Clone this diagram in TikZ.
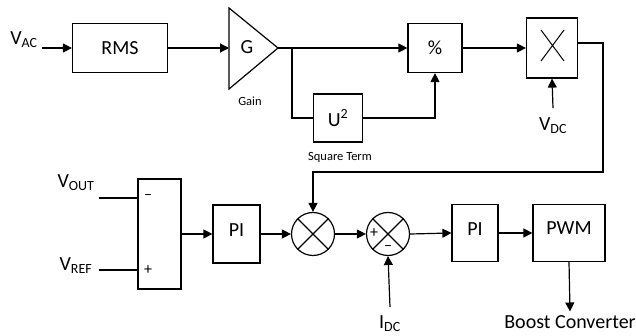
\documentclass[tikz,border=0pt]{standalone}
\usepackage{fontspec}
\setmainfont{Carlito}
\usetikzlibrary{arrows.meta,calc}
\tikzset{
  blk/.style={draw,line width=1.2pt,inner sep=0pt},
  sumnode/.style={draw,circle,line width=1.2pt,minimum size=43pt,inner sep=0pt},
  small/.style={font=\fontsize{12.5}{14}\selectfont},
  sign/.style={font=\fontsize{16}{18}\selectfont,inner sep=0pt},
  >={Triangle[length=9pt,width=9pt]}
}
\begin{document}
\begin{tikzpicture}[x=1pt,y=-1pt,line width=1.2pt,font=\fontsize{20}{24}\selectfont]
  \useasboundingbox (0,0) rectangle (636,336);
  \node(vac) at (24,40) {V\textsubscript{AC}};
  \node[blk,minimum width=95pt,minimum height=49pt](rms) at (120,48) {RMS};
  \coordinate(gin) at (229,48);
  \coordinate(gout) at (278,48);
  \draw (229,8) -- (gout) -- (229,89) -- cycle;
  \node(g) at (247,47) {G};
  \node[small](gain) at (250,101) {Gain};
  \node[blk,minimum width=54pt,minimum height=49pt](pct) at (435,48) {\%};
  \node[blk,minimum width=49pt,minimum height=48pt](sq) at (338,118) {U\textsuperscript{2}};
  \node[small](sqlbl) at (340,157) {Square Term};
  \node[blk,minimum width=51pt,minimum height=60pt](mul) at (552,48) {};
  \draw[line width=1pt] (541,30) -- (564,61) (564,30) -- (541,61);
  \node(vdc) at (553,126) {V\textsubscript{DC}};
  \coordinate(br) at (292,48);
  \coordinate(fb) at (603,172);

  \node(vout) at (76,183) {V\textsubscript{OUT}};
  \node(vref) at (76,266) {V\textsubscript{REF}};
  \node[blk,minimum width=43pt,minimum height=110pt](cmp) at (159.5,234) {};
  \node[sign](minus) at (148,197) {--};
  \node[sign](plus) at (148,270) {+};
  \node[blk,minimum width=47pt,minimum height=58pt,text depth=8pt](pi1) at (236.5,234) {PI};
  \node[sumnode](m1) at (313,234) {};
  \node[sumnode](m2) at (388,234) {};
  \node[sign](m2p) at (374,233) {+};
  \node[sign](m2m) at (388,248) {--};
  \node[blk,minimum width=46pt,minimum height=57pt,text depth=8pt](pi2) at (475,233) {PI};
  \node[blk,minimum width=72pt,minimum height=57pt,text depth=9pt](pwm) at (569,233) {PWM};
  \node(boost) at (570,322) {Boost Converter};
  \node(idc) at (390,324) {I\textsubscript{DC}};
  \coordinate(vo) at (99,198);
  \coordinate(vr) at (99,270);

  \draw[->] (vac.east |- rms.west) -- (rms.west);
  \draw[->] (rms.east) -- (gin);
  \draw[->] (gout) -- (pct.west);
  \draw (br) |- (sq.west);
  \draw[->] (sq.east) -| (pct.south);
  \draw[->] (pct.east) -- (mul.west);
  \draw[->] ($(vdc.north)+(0,-6)$) -- (mul.south);
  \draw[->] ($(mul.east)+(0,-5)$) -| (fb) -| (m1.north);
  \draw (vo) -- (vo -| cmp.west);
  \draw (vr) -- (vr -| cmp.west);
  \draw (m1.north west) -- (m1.south east) (m1.north east) -- (m1.south west);
  \draw (m2.north west) -- (m2.south east) (m2.north east) -- (m2.south west);
  \draw[->] (cmp.east) -- (pi1.west);
  \draw[->] (pi1.east) -- (m1.west);
  \draw[->] (m1.east) -- (m2.west);
  \draw[->] (m2.east) -- (pi2.west);
  \draw[->] (pi2.east) -- (pwm.west);
  \draw[->] (pwm.south) -- (boost.north);
  \draw[->] ($(idc.north)+(0,-5)$) -- (m2.south);
\end{tikzpicture}
\end{document}
